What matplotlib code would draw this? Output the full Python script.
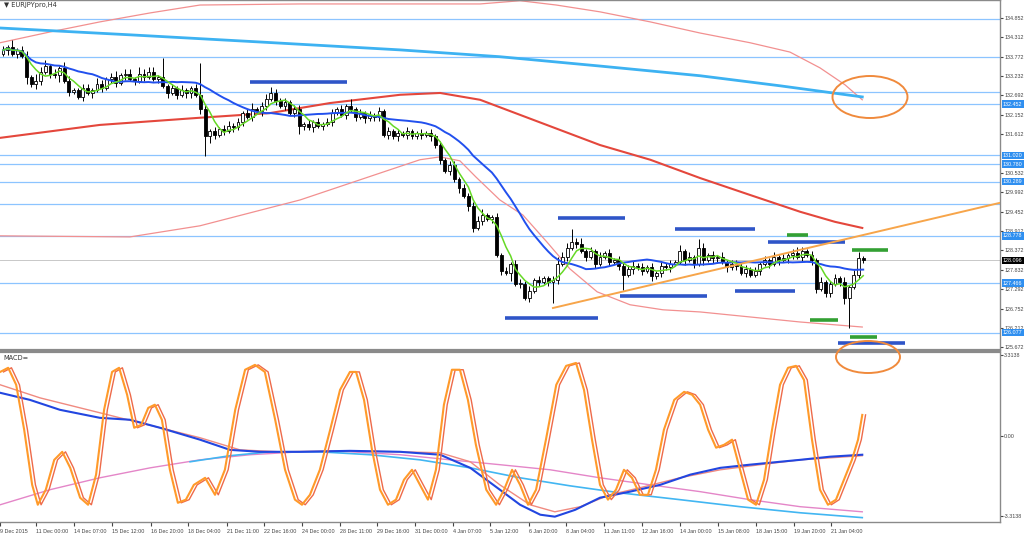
import numpy as np
import pandas as pd
import matplotlib
matplotlib.use("Agg")
import matplotlib.pyplot as plt
from matplotlib.patches import Ellipse

# ---------------- EURJPY H4 data ----------------
first_open = 133.85
closes = [
    133.95, 134.05, 133.85, 133.95, 133.8, 133.2, 133.0, 133.1,
    133.35, 133.5, 133.3, 133.25, 133.45, 133.1, 132.8, 132.85,
    132.65, 132.9, 132.75, 132.85, 133.0, 132.9, 133.15, 133.2,
    133.05, 133.25, 133.3, 133.15, 133.1, 133.3, 133.2, 133.35,
    133.15, 133.2, 132.95, 132.75, 132.9, 132.7, 132.85, 132.75,
    132.9, 132.7, 132.3, 131.55, 131.7, 131.6, 131.75, 131.7,
    131.85, 131.8, 131.95, 132.2, 132.1, 132.3, 132.25, 132.4,
    132.6, 132.75, 132.55, 132.4, 132.5, 132.2, 132.3, 131.85,
    131.9, 131.8, 131.95, 131.85, 131.9, 131.95, 132.2, 132.3,
    132.15, 132.4, 132.3, 132.1, 132.2, 132.05, 132.15, 132.1,
    132.25, 131.6, 131.7, 131.55, 131.65, 131.6, 131.7, 131.55,
    131.65, 131.6, 131.65, 131.55, 131.3, 130.9, 130.6, 130.75,
    130.35, 130.1, 129.9, 129.6, 129.0, 129.2, 129.35, 129.25,
    129.3, 128.25, 127.8, 127.75, 128.0, 127.45, 127.45, 127.05,
    127.25, 127.55, 127.5, 127.6, 127.5, 127.55, 128.0, 128.2,
    128.45, 128.6, 128.55, 128.35, 128.2, 128.35, 128.0, 128.2,
    128.3, 128.05, 128.1, 127.95, 127.7, 127.85, 127.95, 127.9,
    127.8, 127.9, 127.65, 127.75, 127.95, 127.9, 128.0, 128.05,
    128.35, 128.1, 128.2, 128.0, 128.45, 128.1, 128.25, 128.15,
    128.2, 128.05, 127.9, 128.0, 127.95, 127.75, 127.85, 127.7,
    127.8, 128.0, 128.1, 128.0, 128.2, 128.1, 128.15, 128.25,
    128.3, 128.2, 128.35, 128.25, 128.1, 127.3, 127.5, 127.2,
    127.45, 127.6, 127.5, 127.05, 127.35, 127.7, 128.15, 128.096,
]
# wick lengths per bar, base-36 digits in units of 0.06
wick_up = ("21312213" "23121321" "12213212" "31221322" "21912121" "12f21212"
           "21212312" "23212122" "12121221" "21312121" "21212121" "12121212"
           "21212231" "12121221" "21211232" "26231212" "12121221" "21212121"
           "31214212" "12122121" "21212121" "23212121" "12121231")
wick_dn = ("12121312" "21213121" "12121212" "21212121" "12121212" "21293212"
           "12121212" "21212124" "21212121" "12121212" "21212121" "12121212"
           "12122121" "21214121" "21212a21" "21212121" "12127121" "21212121"
           "12121212" "21212121" "12121212" "21212212" "2123e121")
wick_unit = 0.06

# slow moving averages and envelope (bar index, price)
red_ma_x = [-0.6, 20.6, 41.9, 56.8, 69.6, 84.5, 93.0, 101.5, 110.0, 118.5, 127.0, 137.7, 148.3, 158.9, 169.6, 177.0, 182.8]
red_ma_y = [131.51, 131.87, 132.07, 132.20, 132.48, 132.71, 132.76, 132.57, 132.15, 131.73, 131.31, 130.90, 130.39, 129.92, 129.45, 129.17, 129.00]
sky_ma_x = [-0.6, 27.0, 54.7, 84.5, 105.7, 127.0, 148.3, 165.3, 182.8]
sky_ma_y = [134.57, 134.38, 134.18, 133.96, 133.77, 133.51, 133.24, 132.96, 132.65]
band_up_x = [-0.6, 10.0, 20.6, 31.3, 41.9, 63.2, 84.5, 101.5, 110.0, 117.7, 127.0, 137.7, 148.3, 158.9, 167.4, 173.8, 179.1, 182.8]
band_up_y = [134.16, 134.46, 134.74, 134.99, 135.21, 135.24, 135.24, 135.24, 135.33, 135.21, 135.02, 134.74, 134.43, 134.16, 133.90, 133.46, 132.99, 132.57]
band_dn_x = [-0.6, 27.0, 41.9, 63.2, 82.3, 88.7, 93.0, 97.2, 100.6, 105.7, 110.6, 115.7, 120.6, 126.4, 133.4, 140.4, 148.3, 169.6, 182.8]
band_dn_y = [128.78, 128.75, 129.06, 129.78, 130.62, 130.90, 130.98, 130.87, 130.42, 129.78, 129.36, 128.61, 127.86, 127.22, 126.86, 126.72, 126.66, 126.38, 126.24]

# horizontal levels
levels = [134.82, 133.772, 132.79, 132.452, 131.020, 130.780, 130.289, 129.67, 128.778, 127.466, 126.077]
label_levels = [132.452, 131.020, 130.780, 130.289, 128.778, 127.466, 126.077]
last_price = 128.096
# drawn segments (start bar, end bar, price)
blue_segs = [(52.6, 73.2, 133.07), (106.8, 126.6, 126.49), (118.1, 132.3, 129.28),
             (131.3, 149.8, 127.11), (143.0, 160.0, 128.97), (155.7, 168.5, 127.25),
             (162.8, 179.1, 128.61), (177.7, 191.9, 125.80)]
green_segs = [(166.8, 171.3, 128.80), (180.6, 188.3, 128.39), (171.7, 177.7, 126.44), (180.2, 186.0, 125.96)]
trend_x = [117.0, 212.1]
trend_y = [126.77, 129.70]

price_ticks = [134.852, 134.312, 133.772, 133.232, 132.692, 132.152, 131.612,
               130.532, 129.992, 129.452, 128.912, 128.372, 127.832, 127.292, 126.752,
               126.212, 125.672]

# MACD panel (bar index, value)
osc_pts = [(-0.6, 2.63), (1.1, 2.80), (2.8, 2.10), (4.5, 0.25), (6.2, -2.02), (7.4, -2.84), (9.1, -2.22),
           (10.9, -0.99), (12.6, -0.66), (14.3, -1.32), (16.4, -2.55), (18.1, -2.84), (19.8, -1.60),
           (21.5, 1.07), (23.2, 2.63), (24.7, 2.80), (26.4, 1.69), (27.9, 0.33), (29.4, 0.45), (30.9, 1.15),
           (32.3, 1.28), (33.8, 0.66), (35.5, -1.40), (37.2, -2.76), (38.9, -2.63), (40.6, -2.02),
           (43.0, -1.73), (45.1, -2.43), (47.2, -1.40), (49.4, 1.07), (51.5, 2.72), (53.6, 2.92),
           (55.7, 2.63), (57.9, 0.66), (60.0, -1.40), (62.1, -2.63), (63.6, -2.84), (65.3, -2.43),
           (67.4, -1.40), (69.6, 0.25), (71.7, 1.89), (73.8, 2.63), (75.1, 2.63), (76.8, 1.48),
           (78.5, -0.58), (80.2, -2.22), (81.9, -2.84), (83.6, -2.63), (85.3, -1.81), (87.0, -1.40),
           (88.7, -2.02), (90.4, -2.63), (92.1, -1.40), (93.8, 1.28), (95.5, 2.72), (97.2, 2.72),
           (98.9, 1.48), (100.6, -0.37), (102.8, -2.22), (104.9, -2.84), (106.6, -2.22), (108.3, -1.40),
           (110.0, -2.02), (111.7, -2.84), (113.4, -2.22), (115.5, -0.16), (117.7, 2.10), (119.8, 2.88),
           (121.9, 3.00), (123.6, 1.89), (125.3, -0.16), (127.0, -2.02), (128.7, -2.63), (130.4, -2.22),
           (132.1, -1.40), (133.8, -1.73), (135.5, -2.43), (137.2, -2.43), (138.9, -1.40), (140.6, 0.25),
           (142.8, 1.48), (144.9, 1.81), (146.6, 1.69), (148.3, 1.28), (150.0, 0.25), (151.7, -0.49),
           (153.4, -0.37), (155.1, -0.16), (156.8, -1.40), (158.5, -2.63), (160.2, -2.84), (161.9, -1.81),
           (163.6, 0.25), (165.3, 2.10), (167.0, 2.80), (168.7, 2.88), (170.4, 2.30), (172.1, -0.16),
           (173.8, -2.22), (175.5, -2.84), (177.2, -2.63), (178.9, -1.81), (180.6, -0.99), (181.9, -0.16),
           (182.8, 0.86)]
macd_blue = [(-0.6, 1.77), (5.7, 1.48), (12.1, 1.07), (20.6, 0.74), (27.0, 0.66), (33.4, 0.33), (41.9, -0.16),
             (48.3, -0.58), (54.7, -0.66), (63.2, -0.66), (73.8, -0.62), (84.5, -0.66), (93.0, -0.78),
             (99.4, -1.32), (105.7, -2.22), (110.0, -2.84), (114.3, -3.25), (117.4, -3.33), (121.7, -3.05),
             (127.0, -2.55), (133.4, -2.30), (139.8, -2.02), (146.2, -1.60), (152.6, -1.32), (158.9, -1.19),
             (165.3, -1.07), (169.6, -0.99), (176.0, -0.86), (182.8, -0.78)]
macd_salmon = [(-0.6, 2.10), (7.9, 1.56), (16.4, 1.15), (24.9, 0.74), (33.4, 0.33), (41.9, -0.08), (50.4, -0.58),
               (58.9, -0.66), (71.7, -0.62), (84.5, -0.66), (93.0, -0.70), (99.4, -1.07), (105.7, -2.02),
               (112.1, -2.84), (117.4, -3.13), (122.8, -2.92), (129.1, -2.43), (135.5, -2.14), (144.0, -1.73),
               (152.6, -1.40), (161.1, -1.19), (169.6, -0.99), (182.8, -0.82)]
macd_cyan = [(39.8, -1.07), (48.3, -0.82), (56.8, -0.66), (67.4, -0.66), (78.1, -0.78), (88.7, -0.99),
             (99.4, -1.32), (110.0, -1.73), (120.6, -2.06), (131.3, -2.35), (144.0, -2.63), (156.8, -2.92),
             (169.6, -3.17), (182.8, -3.37)]
macd_pink = [(-0.6, -2.84), (10.0, -2.22), (20.6, -1.73), (31.3, -1.32), (41.9, -0.99), (52.6, -0.78),
             (63.2, -0.66), (73.8, -0.66), (84.5, -0.78), (95.1, -0.99), (105.7, -1.19), (116.4, -1.40),
             (127.0, -1.73), (137.7, -2.02), (148.3, -2.30), (158.9, -2.63), (169.6, -2.92), (182.8, -3.13)]

time_ticks = [-0.6, 7.0, 15.1, 23.2, 31.5, 39.4, 47.7, 55.5, 63.6, 71.7, 79.6, 87.7, 95.7,
              103.6, 111.9, 119.8, 127.9, 136.0, 144.0, 152.1, 160.2, 168.3, 176.2]
time_labels = ["9 Dec 2015", "11 Dec 00:00", "14 Dec 07:00", "15 Dec 12:00", "16 Dec 20:00",
               "18 Dec 04:00", "21 Dec 11:00", "22 Dec 16:00", "24 Dec 00:00", "28 Dec 11:00",
               "29 Dec 16:00", "31 Dec 00:00", "4 Jan 07:00", "5 Jan 12:00", "6 Jan 20:00",
               "8 Jan 04:00", "11 Jan 11:00", "12 Jan 16:00", "14 Jan 00:00", "15 Jan 08:00",
               "18 Jan 15:00", "19 Jan 20:00", "21 Jan 04:00"]

small = dict(fontsize=3.9, family="Liberation Sans")

# ---------------- figure ----------------
W, H = 1024, 538
fig = plt.figure(figsize=(W / 100, H / 100), dpi=100)
ax = fig.add_axes([0, 1 - 350 / H, 1000 / W, 350 / H])
axm = fig.add_axes([0, 1 - 522 / H, 1000 / W, 170 / H], sharex=ax)

n = len(closes)
x = np.arange(n)
c = np.array(closes)
o = np.concatenate([[first_open], c[:-1]])
up_w = np.array([int(ch, 36) for ch in wick_up[:n]]) * wick_unit
dn_w = np.array([int(ch, 36) for ch in wick_dn[:n]]) * wick_unit
hi = np.maximum(o, c) + up_w
lo = np.minimum(o, c) - dn_w

# levels
for lv in levels:
    ax.axhline(lv, color="#8cc4ff", lw=0.9, zorder=1)
ax.axhline(last_price, color="#c8c8c8", lw=0.7, zorder=1)

# bands and slow MAs
ax.plot(band_up_x, band_up_y, color="#f29090", lw=0.9, zorder=2)
ax.plot(band_dn_x, band_dn_y, color="#f29090", lw=0.9, zorder=2)
ax.plot(sky_ma_x, sky_ma_y, color="#3db2f2", lw=2.0, zorder=2)
ax.plot(red_ma_x, red_ma_y, color="#e4473c", lw=1.5, zorder=2)

# candles
ax.vlines(x, lo, hi, color="black", lw=0.7, zorder=3)
bull = c >= o
ax.bar(x[bull], np.maximum(c - o, 0.005)[bull], bottom=o[bull], width=0.62,
       color="white", edgecolor="black", linewidth=0.6, zorder=4)
ax.bar(x[~bull], (o - c)[~bull], bottom=c[~bull], width=0.62,
       color="black", edgecolor="black", linewidth=0.6, zorder=4)

# fast MAs
s = pd.Series(c)
ax.plot(x, s.rolling(20, min_periods=1).mean(), color="#2250ee", lw=1.4, zorder=5)
ax.plot(x, s.rolling(5, min_periods=1).mean(), color="#66d926", lw=1.1, zorder=5)

# drawings
for x0, x1, p in blue_segs:
    ax.plot([x0, x1], [p, p], color="#2f55c8", lw=2.6, solid_capstyle="butt", zorder=6, clip_on=False)
for x0, x1, p in green_segs:
    ax.plot([x0, x1], [p, p], color="#33a033", lw=2.6, solid_capstyle="butt", zorder=6)
ax.plot(trend_x, trend_y, color="#f7a54a", lw=1.4, zorder=6)

ax.set_xlim(-0.64, 212.1)
ax.set_ylim(125.60, 135.35)
ax.yaxis.tick_right()
ax.set_yticks(price_ticks)
ax.set_yticklabels([f"{t:.3f}" for t in price_ticks], **small)
ax.tick_params(axis="y", length=2, pad=1, colors="#444444")
ax.tick_params(axis="x", bottom=False, labelbottom=False)

tr = ax.get_yaxis_transform()
for lv in label_levels:
    ax.text(1.003, lv, f"{lv:.3f}", transform=tr, color="white", va="center", ha="left",
            bbox=dict(boxstyle="square,pad=0.2", fc="#2f8ff0", ec="none"), clip_on=False, zorder=10, **small)
ax.text(1.003, last_price, f"{last_price:.3f}", transform=tr, color="white", va="center", ha="left",
        bbox=dict(boxstyle="square,pad=0.2", fc="black", ec="none"), clip_on=False, zorder=10, **small)

ax.text(0.004, 0.993, "\u25bc EURJPYpro,H4", transform=ax.transAxes, va="top", ha="left",
        color="#333333", fontsize=4.8)

# ---------------- MACD panel ----------------
ox, oy = zip(*osc_pts)
axm.plot(np.array(ox) + 0.7, oy, color="#ee6a4a", lw=1.0, zorder=3)
axm.plot(ox, oy, color="#ff9a2a", lw=1.5, zorder=4)
for pts, col, lw in [(macd_pink, "#e486c8", 1.0), (macd_cyan, "#42b6f2", 1.2),
                     (macd_salmon, "#f08a80", 1.0), (macd_blue, "#2246e0", 1.5)]:
    px, py = zip(*pts)
    axm.plot(px, py, color=col, lw=lw, zorder=2)

axm.set_ylim(-3.55, 3.45)
axm.yaxis.tick_right()
axm.set_yticks([3.3138, 0.0, -3.3138])
axm.set_yticklabels(["3.3138", "0.00", "-3.3138"], **small)
axm.tick_params(axis="y", length=2, pad=1, colors="#444444")
axm.set_xticks(time_ticks)
axm.set_xticklabels(time_labels, ha="left", **small)
axm.tick_params(axis="x", length=3, pad=2, colors="#444444")
axm.text(0.003, 0.985, "MACD=", transform=axm.transAxes, fontsize=4.8, va="top", ha="left", color="#333333")

for a in (ax, axm):
    for side in ("left", "top", "right", "bottom"):
        a.spines[side].set_color("#8a8a8a")
        a.spines[side].set_linewidth(1.0)
    a.spines["left"].set_visible(False)
ax.spines["bottom"].set_linewidth(1.6)
axm.spines["top"].set_linewidth(1.6)

# highlight ellipses
for cx, cy, ew, eh in [(870, 97, 75, 42), (868, 357, 64, 32)]:
    fig.add_artist(Ellipse((cx / W, 1 - cy / H), ew / W, eh / H, transform=fig.transFigure,
                           fill=False, ec="#f08a3c", lw=1.4, zorder=20))

fig.savefig("out.png", dpi=100, facecolor="white")
